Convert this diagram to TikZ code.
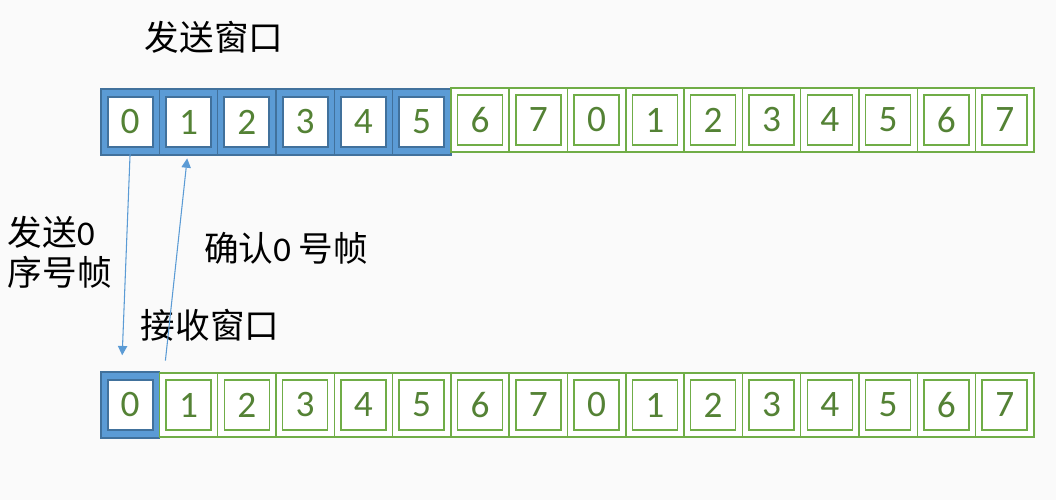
\documentclass[tikz,border=0pt]{standalone}
\usepackage{fontspec}
\setmainfont{Carlito}
\newfontfamily\cjk{Noto Sans CJK SC}
\usetikzlibrary{arrows.meta}
\definecolor{winblue}{HTML}{5B9BD5}
\definecolor{winedge}{HTML}{41719C}
\definecolor{seqgreen}{HTML}{70AD47}
\definecolor{digitgreen}{HTML}{548235}
\definecolor{paper}{HTML}{FAFAFA}
\tikzset{
	cellbox/.style={draw=seqgreen, line width=1.1pt, fill=white, inner sep=0pt,
		minimum width=43.7pt, minimum height=48pt},
	wincell/.style={cellbox, draw=winedge, fill=winblue, minimum height=49.5pt},
	seqnum/.style={draw=seqgreen, line width=1.1pt, fill=white, inner sep=0pt,
		minimum width=33.75pt, minimum height=37.5pt, text=digitgreen,
		font=\fontsize{28}{30}\selectfont},
	winnum/.style={seqnum, draw=winedge, line width=1.4pt},
	label/.style={font=\cjk\fontsize{26}{30}\selectfont, text=black},
	frame/.style={winblue, line width=0.8pt, -{Triangle[width=7pt,length=7pt]}}
}
\begin{document}
\begin{tikzpicture}[x=0.75pt,y=-0.75pt]
	\fill[paper] (0,0) rectangle (1056,500);
	\useasboundingbox (0,0) rectangle (1056,500);
	% sender row and receiver row
	\foreach \i in {0,...,15}
	{
		\pgfmathtruncatemacro{\seq}{mod(\i,8)}
		\ifnum\i<6
		\node[wincell] (s\i) at ({130.2+58.3*\i},122) {};
		\node[winnum] at (s\i) {\seq};
		\else
		\node[cellbox] (s\i) at ({130.2+58.3*\i},120) {};
		\node[seqnum] at (s\i) {\seq};
		\fi
		\ifnum\i=0
		\node[wincell] (r\i) at ({130.2+58.3*\i},405) {};
		\node[winnum] at (r\i) {\seq};
		\else
		\node[cellbox] (r\i) at ({130.2+58.3*\i},405) {};
		\node[seqnum] at (r\i) {\seq};
		\fi
	}
	\node[label] (sendwin) at (214,37) {发送窗口};
	\node[label] (recvwin) at (210,325) {接收窗口};
	\node[label, anchor=west, align=left] (sendlbl) at (3,252) {发送{\rmfamily 0}\\序号帧};
	\node[label] (acklbl) at (286,248) {确认{\rmfamily 0} 号帧};
	% frame 0 and its acknowledgement
	\draw[frame] ([yshift=3.75pt]s0.south) -- ([xshift=-6pt,yshift=12pt]r0.north);
	\draw[frame] ([xshift=4pt,yshift=8pt]r0.north east) -- ([xshift=-1pt,yshift=-2pt]s1.south);
\end{tikzpicture}
\end{document}
